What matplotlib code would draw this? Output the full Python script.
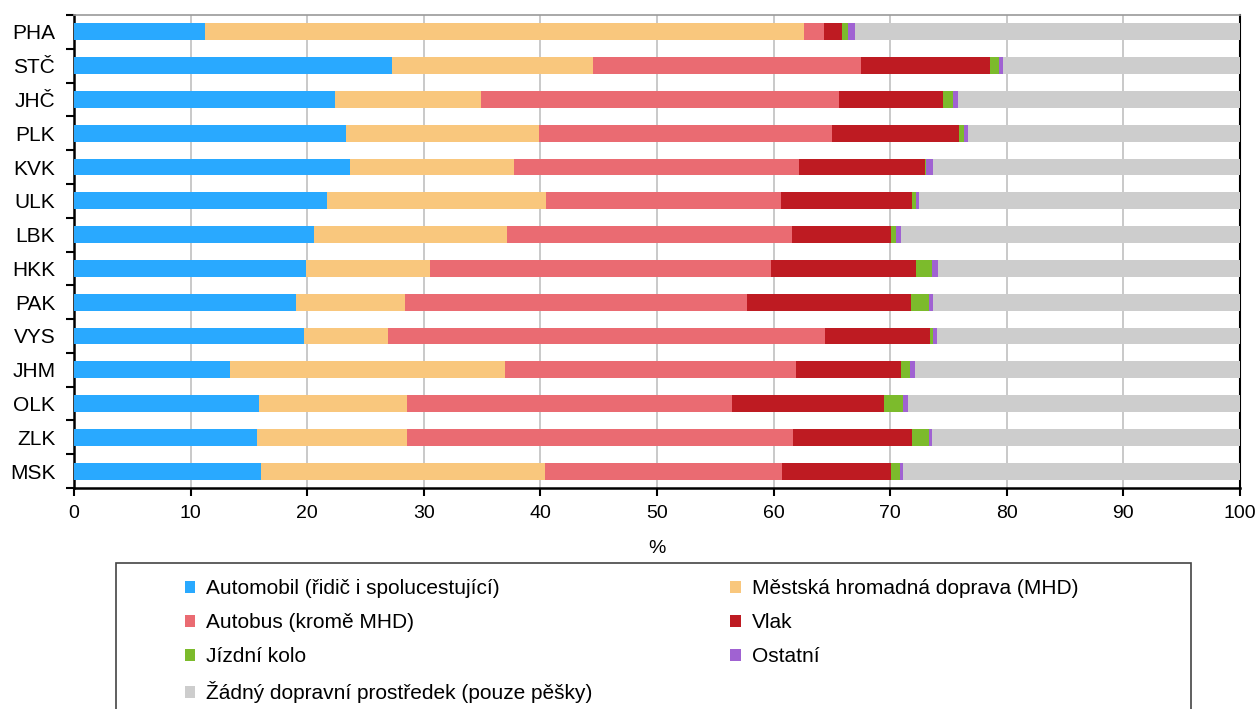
import matplotlib.pyplot as plt
import numpy as np
from matplotlib.patches import Rectangle

plt.rcParams['font.family'] = ['Liberation Sans', 'DejaVu Sans']
plt.rcParams['font.size'] = 14

regions = ['PHA', 'STČ', 'JHČ', 'PLK', 'KVK', 'ULK', 'LBK',
           'HKK', 'PAK', 'VYS', 'JHM', 'OLK', 'ZLK', 'MSK']

automobil = [11.2, 27.3, 22.4, 23.3, 23.7, 21.7, 20.6, 19.9, 19.0, 19.7, 13.4, 15.9, 15.7, 16.0]
mhd       = [51.4, 17.2, 12.5, 16.6, 14.0, 18.8, 16.5, 10.6, 9.4, 7.2, 23.6, 12.7, 12.9, 24.4]
autobus   = [1.7, 23.0, 30.7, 25.1, 24.5, 20.1, 24.5, 29.3, 29.3, 37.5, 24.9, 27.8, 33.1, 20.3]
vlak      = [1.6, 11.1, 8.9, 10.9, 10.8, 11.3, 8.5, 12.4, 14.1, 9.0, 9.0, 13.1, 10.2, 9.4]
kolo      = [0.5, 0.7, 0.9, 0.4, 0.1, 0.3, 0.4, 1.4, 1.5, 0.3, 0.8, 1.6, 1.4, 0.7]
ostatni   = [0.6, 0.4, 0.4, 0.4, 0.6, 0.3, 0.4, 0.5, 0.4, 0.3, 0.4, 0.4, 0.3, 0.3]
zadny     = [33.0, 20.3, 24.2, 23.3, 26.3, 27.5, 29.1, 25.9, 26.3, 26.0, 27.9, 28.5, 26.4, 28.9]

series = [automobil, mhd, autobus, vlak, kolo, ostatni, zadny]
names = ['Automobil (řidič i spolucestující)', 'Městská hromadná doprava (MHD)',
         'Autobus (kromě MHD)', 'Vlak', 'Jízdní kolo', 'Ostatní',
         'Žádný dopravní prostředek (pouze pěšky)']
colors = ['#29A9FF', '#F9C77D', '#EA6B72', '#BE1B22', '#7CBB2C', '#A062D2', '#CDCDCD']

fig = plt.figure(figsize=(12.57, 7.09), dpi=100)
ax = fig.add_axes([74/1257, 1-488/709, (1240-74)/1257, (488-15)/709])

y = np.arange(len(regions))
left = np.zeros(len(regions))
bars = []
for vals, nm, c in zip(series, names, colors):
    b = ax.barh(y, vals, left=left, height=0.5, color=c, label=nm, zorder=3)
    bars.append(b)
    left += np.array(vals)

ax.set_xlim(0, 100)
ax.set_ylim(len(regions) - 0.5, -0.5)
ax.set_xticks(np.arange(0, 101, 10))
ax.xaxis.grid(True, color='#c0c0c0', linewidth=1.2, zorder=0)
ax.set_axisbelow(True)
ax.set_xlabel('%', fontsize=14, labelpad=13)

# tick marks between categories, labels at centers
ax.set_yticks(np.arange(-0.5, len(regions), 1))
ax.set_yticklabels([])
ax.set_yticks(y, minor=True)
ax.set_yticklabels(regions, minor=True, fontsize=15)
ax.tick_params(axis='y', which='major', direction='out', length=6, width=1.5)
ax.tick_params(axis='y', which='minor', length=0, pad=13.5)
ax.tick_params(axis='x', direction='out', length=6, width=1.5, pad=6)

for s in ['left', 'bottom']:
    ax.spines[s].set_linewidth(1.8)
    ax.spines[s].set_color('black')
ax.spines['top'].set_color('#9a9a9a')
ax.spines['top'].set_linewidth(1.2)
ax.spines['right'].set_color('black')
ax.spines['right'].set_linewidth(1.5)

# legend: column-wise order so that rows read as in the original
order = [0, 2, 4, 6, 1, 3, 5]
handles = [bars[i] for i in order]
labels = [names[i] for i in order]
fig.legend(handles, labels, loc='upper left',
           bbox_to_anchor=(185/1257, 1-579/709), ncol=2, frameon=False,
           handlelength=0.5, handleheight=0.5, handletextpad=0.53,
           labelspacing=0.72, columnspacing=6.6, borderpad=0, borderaxespad=0,
           fontsize=15)
fig.add_artist(Rectangle((116/1257, -0.02), (1191-116)/1257, 1-563/709 + 0.02,
                         transform=fig.transFigure, fill=False,
                         edgecolor='#444444', linewidth=1.2))

fig.savefig('out.png', dpi=100)
